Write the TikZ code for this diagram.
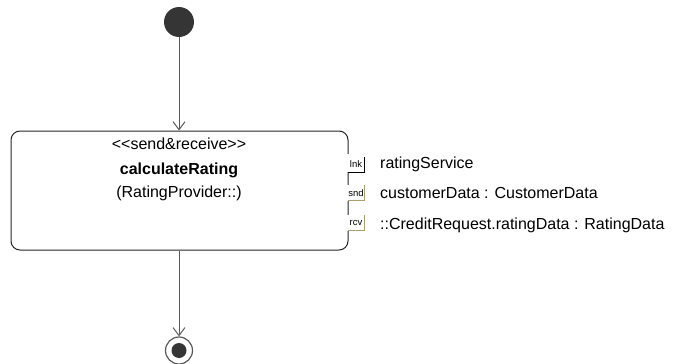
\documentclass[tikz,border=0pt]{standalone}
\usepackage{fontspec}
\setmainfont{Liberation Sans}
\usetikzlibrary{arrows.meta}
\definecolor{linegray}{HTML}{5A5A5A}
\definecolor{dotgray}{HTML}{353535}
\definecolor{pinolive}{HTML}{A8A070}
\tikzset{
  txt/.style={font=\fontsize{16}{18}\selectfont, inner sep=0pt, anchor=base},
  boldtxt/.style={txt, font=\fontsize{16}{18}\selectfont\bfseries},
  labeltxt/.style={txt, anchor=base west},
  pinbox/.style={fill=white, inner sep=0pt, minimum width=17pt, anchor=north west},
  pintxt/.style={font=\fontsize{9.5}{10}\selectfont, inner sep=0pt},
  flow/.style={draw=linegray, line width=1pt, -{Straight Barb[length=8pt,width=12pt,line width=1pt]}},
}
\begin{document}
\begin{tikzpicture}[x=1pt,y=-1pt]
\useasboundingbox (0,0) rectangle (673,364);
% initial node
\node[circle, fill=dotgray, minimum size=30pt, inner sep=0pt] (init) at (179,22) {};
% action
\node[draw=black!85, line width=1pt, rounded corners=9pt, fill=white,
      minimum width=337pt, minimum height=119pt, inner sep=0pt] (act) at (179.5,190.5) {};
\node[txt] (stereo) at (179,149) {<{}<send\&receive>{}>};
\node[boldtxt] (aname) at (179,174) {calculateRating};
\node[txt] (owner) at (179,197) {(RatingProvider::)};
% pins
\node[pinbox, minimum height=18pt] (plnk) at (347,154) {};
\node[pinbox, minimum height=16pt] (psnd) at (347,184.5) {};
\node[pinbox, minimum height=16pt] (prcv) at (347,214.5) {};
\draw[black, line width=1pt] ([yshift=-3pt]plnk.north east) -- (plnk.south east) -- ([xshift=1pt]plnk.south west);
\draw[pinolive, line width=1pt] (psnd.north east) -- (psnd.south east) -- ([xshift=1pt]psnd.south west);
\draw[pinolive, line width=1pt] (prcv.north east) -- (prcv.south east) -- ([xshift=1pt]prcv.south west);
\node[pintxt] (llnk) at (356,164) {lnk};
\node[pintxt] (lsnd) at (356,193) {snd};
\node[pintxt] (lrcv) at (356,223) {rcv};
% pin labels
\node[labeltxt] (tlnk) at (380,168) {ratingService};
\node[labeltxt] (tsnd) at (380,198.5) {customerData : CustomerData};
\node[labeltxt] (trcv) at (380,229) {::CreditRequest.ratingData : RatingData};
% final node
\node[circle, draw=linegray, line width=1.2pt, fill=white, minimum size=27pt, inner sep=0pt] (final) at (179,350.5) {};
\node[circle, fill=dotgray, minimum size=15pt, inner sep=0pt] (finaldot) at (final.center) {};
% flows
\draw[flow] (init) -- (act.north -| init);
\draw[flow] (act.south -| final) -- (final);
\end{tikzpicture}
\end{document}
